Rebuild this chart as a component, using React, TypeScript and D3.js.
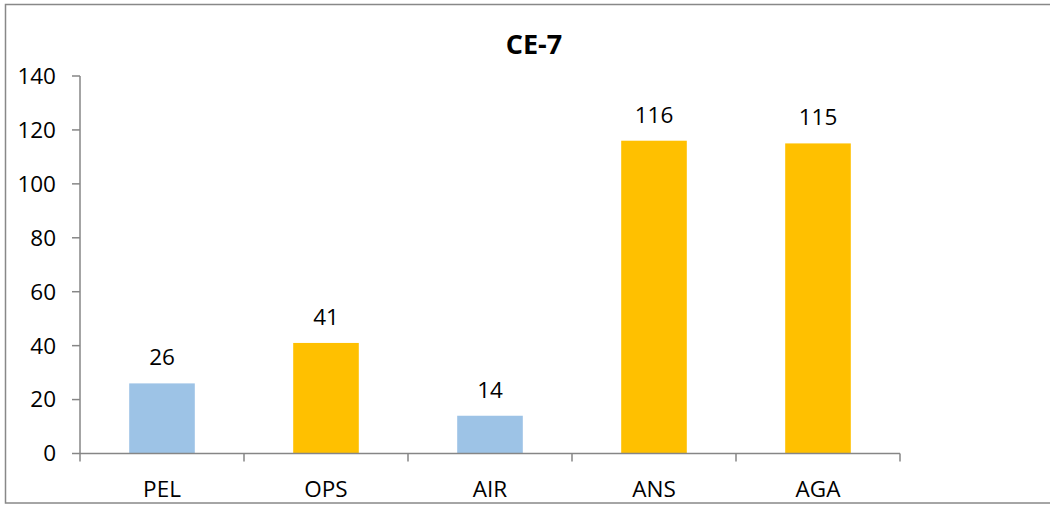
import React from "react";
import * as d3 from "d3";

const categories = ["PEL", "OPS", "AIR", "ANS", "AGA"];
const values = [26, 41, 14, 116, 115];
const barColors = ["#9DC3E6", "#FFC000", "#9DC3E6", "#FFC000", "#FFC000"];
const yTicks = [0, 20, 40, 60, 80, 100, 120, 140];
const title = "CE-7";

export default function App() {
  const W = 1050, H = 506;
  const left = 80, right = 900, top = 76, bottom = 453.5;
  const x = d3.scaleBand<string>().domain(categories).range([left, right]).paddingInner(0).paddingOuter(0);
  const y = d3.scaleLinear().domain([0, 140]).range([bottom, top]);
  const bw = x.bandwidth() * 0.4;
  const font = "'Open Sans', 'Noto Sans', sans-serif";
  const axisColor = "#868686";
  const fs = 22.5;
  return (
    <svg width={W} height={H} style={{ position: "absolute", left: 0, top: 0, background: "#fff" }} fontFamily={font}>
      <rect x={5.5} y={4.5} width={1100} height={498.5} fill="#fff" stroke="#888" strokeWidth={1.5} />
      <text x={534} y={54} textAnchor="middle" fontSize={27} fontWeight="bold" fill="#000">{title}</text>
      {categories.map((c, i) => {
        const cx = (x(c) as number) + x.bandwidth() / 2;
        return (
          <g key={c}>
            <rect x={cx - bw / 2} y={y(values[i])} width={bw} height={bottom - y(values[i])} fill={barColors[i]} />
            <text x={cx} y={y(values[i]) - 18} textAnchor="middle" fontSize={fs} fill="#000">{values[i]}</text>
            <text x={cx} y={497} textAnchor="middle" fontSize={fs} fill="#000">{c}</text>
          </g>
        );
      })}
      <line x1={left} x2={left} y1={top} y2={bottom} stroke={axisColor} strokeWidth={1.5} />
      {yTicks.map((t) => (
        <g key={t}>
          <line x1={left - 8} x2={left} y1={y(t)} y2={y(t)} stroke={axisColor} strokeWidth={1.5} />
          <text x={56} y={y(t)} dy="0.35em" textAnchor="end" fontSize={fs} fill="#000">{t}</text>
        </g>
      ))}
      <line x1={left} x2={right} y1={bottom} y2={bottom} stroke={axisColor} strokeWidth={1.5} />
      {categories.concat([""]).map((c, i) => {
        const xx = left + i * x.step();
        return <line key={i} x1={xx} x2={xx} y1={bottom} y2={bottom + 8} stroke={axisColor} strokeWidth={1.5} />;
      })}
    </svg>
  );
}
